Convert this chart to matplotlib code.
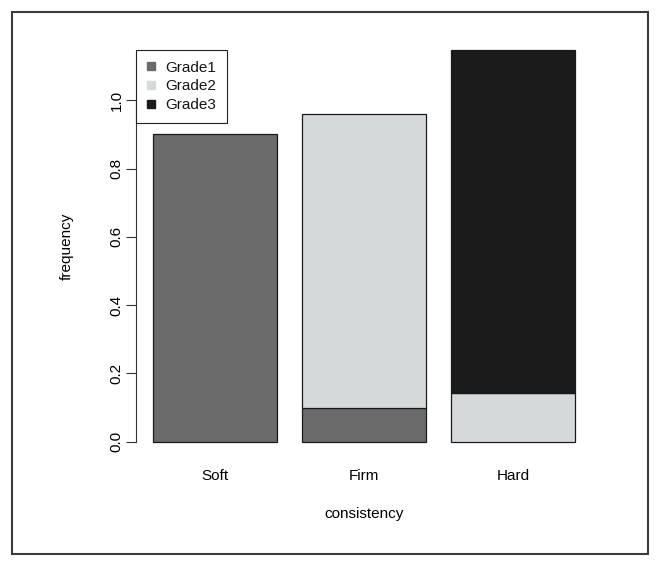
import matplotlib
matplotlib.use("Agg")
import matplotlib.pyplot as plt
from matplotlib.patches import Rectangle
from matplotlib.lines import Line2D

categories = ["Soft", "Firm", "Hard"]
grade1 = [0.90, 0.10, 0.0]
grade2 = [0.0, 0.86, 0.143]
grade3 = [0.0, 0.0, 1.004]
series_names = ["Grade1", "Grade2", "Grade3"]
colors = ["#6b6b6b", "#d6d9da", "#1b1b1b"]
yticks = [0.0, 0.2, 0.4, 0.6, 0.8, 1.0]

plt.rcParams["font.family"] = ["Liberation Sans", "DejaVu Sans"]
plt.rcParams["text.color"] = "#151515"

W, H = 661, 567
fig = plt.figure(figsize=(W / 100, H / 100), dpi=100)
fig.patch.set_facecolor("white")

# outer frame
fig.patches.append(Rectangle((12 / W, 1 - 554 / H), (648 - 12) / W, (554 - 12) / H,
                             transform=fig.transFigure, fill=False,
                             edgecolor="#3c3c3c", linewidth=1.5))

left, right, top, bottom = 136.4, 592.0, 35.7, 457.3
ax = fig.add_axes([left / W, 1 - bottom / H, (right - left) / W, (bottom - top) / H])
ax.set_facecolor("none")

x = [0.7 + 1.2 * i for i in range(len(categories))]
bottoms = [0.0] * len(categories)
for vals, name, c in zip([grade1, grade2, grade3], series_names, colors):
    xs = [xi for xi, v in zip(x, vals) if v > 0]
    hs = [v for v in vals if v > 0]
    bs = [b for b, v in zip(bottoms, vals) if v > 0]
    ax.bar(xs, hs, width=1.0, bottom=bs, color=c, edgecolor="#1a1a1a",
           linewidth=0.9, label=name)
    bottoms = [b + v for b, v in zip(bottoms, vals)]

ax.set_xlim(0.064, 3.736)
ax.set_ylim(-0.0457, 1.189)

for s in ["top", "right", "bottom"]:
    ax.spines[s].set_visible(False)
ax.spines["left"].set_bounds(0, 1.0)
ax.spines["left"].set_color("#333333")
ax.spines["left"].set_linewidth(0.8)

fs = 11
ax.set_yticks(yticks)
ax.set_yticklabels([f"{t:.1f}" for t in yticks], rotation=90, va="center")
ax.tick_params(axis="y", length=7.2, width=0.8, color="#333333", labelsize=fs, pad=2)
ax.set_xticks(x)
ax.set_xticklabels(categories)
ax.tick_params(axis="x", length=0, labelsize=fs, pad=8.5)

ax.set_xlabel("consistency", fontsize=fs, labelpad=17)
ax.set_ylabel("frequency", fontsize=fs)
ax.yaxis.set_label_coords((74 - left) / (right - left), 0.5)

handles = [Line2D([], [], marker="s", linestyle="none", markersize=5.5,
                  markerfacecolor=c, markeredgecolor=c) for c in colors]
ytop_axes = (1.147 - (-0.0457)) / (1.189 + 0.0457)
leg = ax.legend(handles, series_names, loc="upper left",
                bbox_to_anchor=(0.0, ytop_axes), borderaxespad=0,
                fancybox=False, shadow=False, framealpha=1,
                edgecolor="#222222", fontsize=fs, borderpad=0.7,
                handlelength=0.45, handletextpad=0.75, labelspacing=0.3)
leg.get_frame().set_linewidth(0.8)

fig.savefig("out.png", dpi=100)
